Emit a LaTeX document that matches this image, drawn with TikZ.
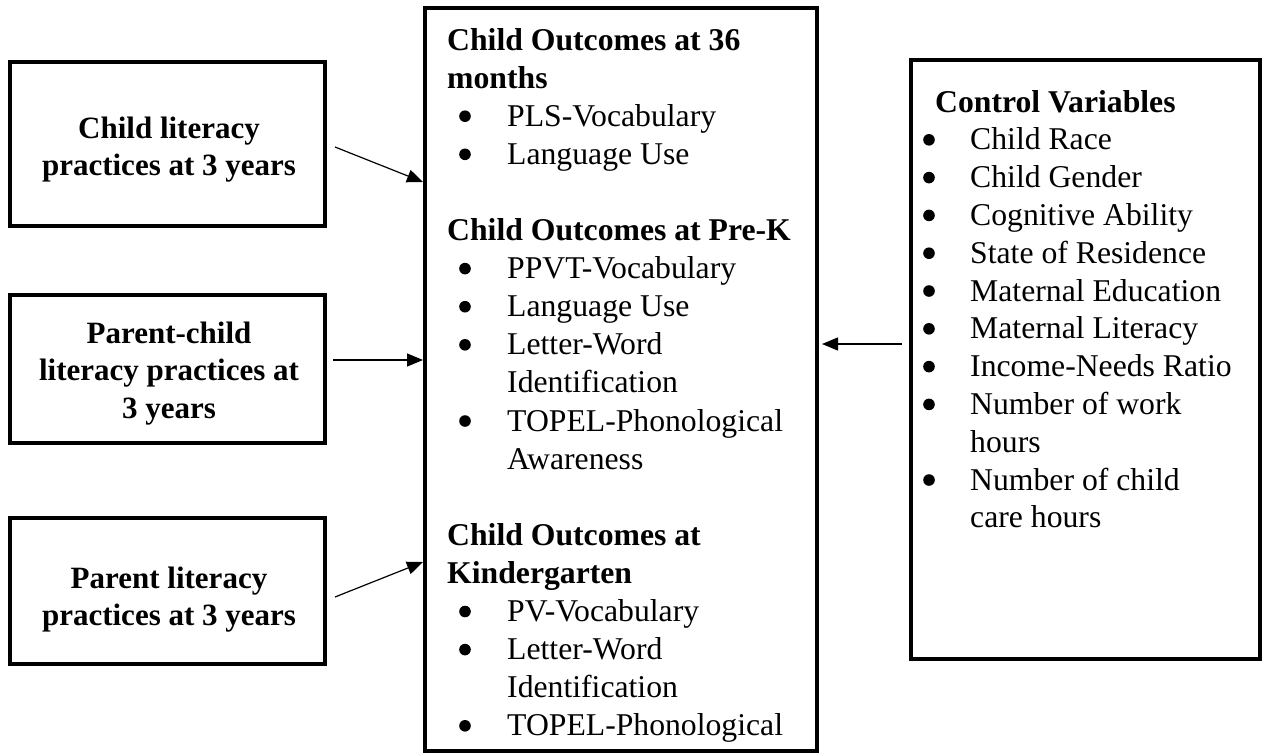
\documentclass[tikz,border=0pt]{standalone}
\usepackage{fontspec}
\setmainfont{Liberation Serif}
\usetikzlibrary{arrows.meta}
\begin{document}
\begin{tikzpicture}[x=1pt,y=-1pt,
  box/.style={draw, line width=3.5pt, inner sep=0pt, rectangle},
  txt/.style={inner sep=0pt, anchor=base west, font=\fontsize{31.7}{38}\selectfont},
  hd/.style={txt, font=\fontsize{31.7}{38}\selectfont\bfseries},
  ltxt/.style={inner sep=0pt, anchor=base, font=\fontsize{31}{38}\selectfont\bfseries},
  arr/.style={line width=1.2pt, -{Triangle[length=16pt,width=13pt]}},
  bul/.style={radius=5.8pt}]
\useasboundingbox (0,0) rectangle (1262,753);
% boxes
\node[box, minimum width=315pt, minimum height=164pt] (b1) at (167.5,144) {};
\node[box, minimum width=315pt, minimum height=148pt] (b2) at (167.5,369) {};
\node[box, minimum width=315pt, minimum height=146pt] (b3) at (167.5,591) {};
\node[box, line width=4pt, minimum width=392pt, minimum height=743pt] (mid) at (621,379.5) {};
\node[box, minimum width=349pt, minimum height=599pt] (ctrl) at (1085.5,359.5) {};
% left box texts
\node[ltxt] (b1a) at (169,138) {Child literacy};
\node[ltxt] (b1b) at (169,175) {practices at 3 years};
\node[ltxt] (b2a) at (169,343) {Parent-child};
\node[ltxt] (b2b) at (169,380.5) {literacy practices at};
\node[ltxt] (b2c) at (169,418) {3 years};
\node[ltxt] (b3a) at (169,588) {Parent literacy};
\node[ltxt] (b3b) at (169,625) {practices at 3 years};
% middle box texts
\node[hd] (m0) at (447,50) {Child Outcomes at 36};
\node[hd] (m1) at (447,88.1) {months};
\node[txt] (m2) at (507,126.2) {PLS-Vocabulary};
\node[txt] (m3) at (507,164.3) {Language Use};
\node[hd] (m5) at (447,240.5) {Child Outcomes at Pre-K};
\node[txt] (m6) at (507,278.6) {PPVT-Vocabulary};
\node[txt] (m7) at (507,316.7) {Language Use};
\node[txt] (m8) at (507,354.8) {Letter-Word};
\node[txt] (m9) at (507,392.9) {Identification};
\node[txt] (m10) at (507,431) {TOPEL-Phonological};
\node[txt] (m11) at (507,469.1) {Awareness};
\node[hd] (m13) at (447,545.3) {Child Outcomes at};
\node[hd] (m14) at (447,583.4) {Kindergarten};
\node[txt] (m15) at (507,621.5) {PV-Vocabulary};
\node[txt] (m16) at (507,659.6) {Letter-Word};
\node[txt] (m17) at (507,697.7) {Identification};
\node[txt] (m18) at (507,735.8) {TOPEL-Phonological};
\foreach \yy in {126.2,164.3,278.6,316.7,354.8,431,621.5,659.6,735.8}
  \fill[bul] (465,\yy-10) circle;
% control box texts
\node[hd] (c0) at (935,112) {Control Variables};
\node[txt] (c1) at (970,149.8) {Child Race};
\node[txt] (c2) at (970,187.6) {Child Gender};
\node[txt] (c3) at (970,225.4) {Cognitive Ability};
\node[txt] (c4) at (970,263.2) {State of Residence};
\node[txt] (c5) at (970,301) {Maternal Education};
\node[txt] (c6) at (970,338.8) {Maternal Literacy};
\node[txt] (c7) at (970,376.6) {Income-Needs Ratio};
\node[txt] (c8) at (970,414.4) {Number of work};
\node[txt] (c9) at (970,452.2) {hours};
\node[txt] (c10) at (970,490) {Number of child};
\node[txt] (c11) at (970,527.8) {care hours};
\foreach \yy in {149.8,187.6,225.4,263.2,301,338.8,376.6,414.4,490}
  \fill[bul] (929,\yy-10) circle;
% arrows
\coordinate (a1s) at (335,147);
\coordinate (a1e) at (423,182);
\coordinate (a2s) at (333,360);
\coordinate (a3s) at (335,597);
\coordinate (a3e) at (423,562);
\coordinate (a4s) at (902,344);
\coordinate (a4e) at (822,344);
\draw[arr] (a1s) -- (a1e);
\draw[arr] (a2s) -- (a2s -| a1e);
\draw[arr] (a3s) -- (a3e);
\draw[arr] (a4s) -- (a4e);
\end{tikzpicture}
\end{document}
